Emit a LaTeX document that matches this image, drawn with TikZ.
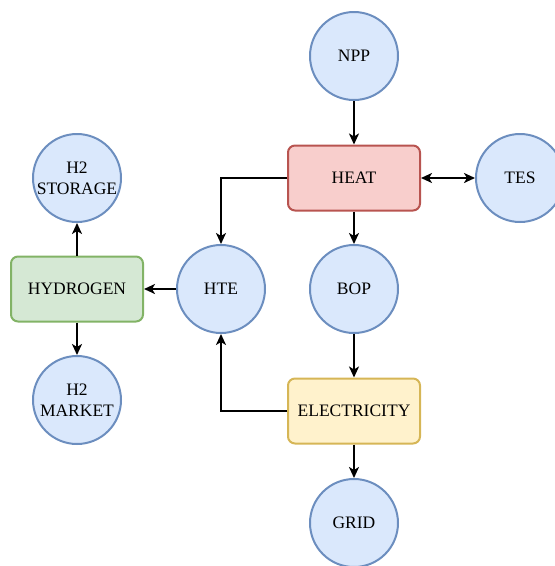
\documentclass[tikz,border=0pt]{standalone}
\usepackage{fontspec}
\setmainfont{Liberation Serif}
\usetikzlibrary{arrows.meta}
\definecolor{bfill}{HTML}{DAE8FC}
\definecolor{bdraw}{HTML}{6C8EBF}
\definecolor{rfill}{HTML}{F8CECC}
\definecolor{rdraw}{HTML}{B85450}
\definecolor{gfill}{HTML}{D5E8D4}
\definecolor{gdraw}{HTML}{82B366}
\definecolor{yfill}{HTML}{FFF2CC}
\definecolor{ydraw}{HTML}{D6B656}
\begin{document}
\begin{tikzpicture}[x=1pt,y=-1pt,
  every node/.style={font=\fontsize{17.5}{21}\selectfont, align=center, inner sep=0pt},
  circ/.style={circle, draw=bdraw, fill=bfill, line width=2pt, minimum size=88pt},
  boxbase/.style={rectangle, rounded corners=7pt, line width=2pt, minimum width=132pt, minimum height=65pt},
  redbox/.style={boxbase, draw=rdraw, fill=rfill},
  greenbox/.style={boxbase, draw=gdraw, fill=gfill},
  yellowbox/.style={boxbase, draw=ydraw, fill=yfill},
  conn/.style={line width=2pt, -{Stealth[length=11pt,width=10pt,inset=3pt]}},
  dconn/.style={line width=2pt, {Stealth[length=11pt,width=10pt,inset=3pt]}-{Stealth[length=11pt,width=10pt,inset=3pt]}}]
\useasboundingbox (0,0) rectangle (555,566);
\node[circ] (npp) at (354,56) {NPP};
\node[redbox] (heat) at (354,178) {HEAT};
\node[circ] (tes) at (520,178) {TES};
\node[circ] (bop) at (354,289) {BOP};
\node[circ] (hte) at (221,289) {HTE};
\node[greenbox] (hyd) at (77,289) {HYDROGEN};
\node[circ] (h2s) at (77,178) {H2\\STORAGE};
\node[circ] (h2m) at (77,400) {H2\\MARKET};
\node[yellowbox] (elec) at (354,411) {ELECTRICITY};
\node[circ] (grid) at (354,523) {GRID};
\draw[conn] (npp) -- (heat);
\draw[dconn] (heat) -- (tes);
\draw[conn] (heat) -- (bop);
\draw[conn] (heat.west) -| (hte.north);
\draw[conn] (bop) -- (elec);
\draw[conn] (elec.west) -| (hte.south);
\draw[conn] (elec) -- (grid);
\draw[conn] (hte) -- (hyd);
\draw[conn] (hyd) -- (h2s);
\draw[conn] (hyd) -- (h2m);
\end{tikzpicture}
\end{document}
